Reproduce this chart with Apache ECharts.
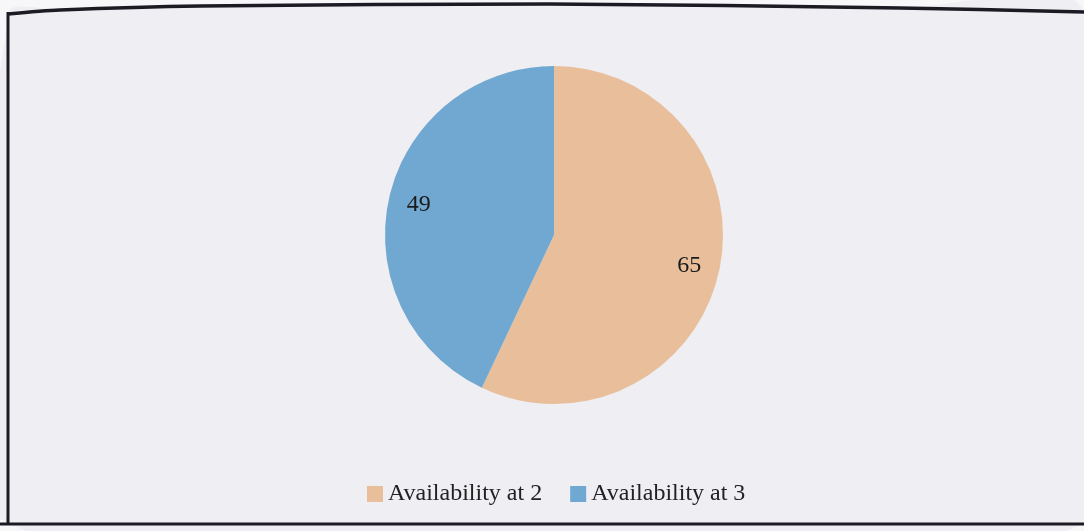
<!DOCTYPE html>
<html><head><meta charset="utf-8">
<script src="https://cdn.jsdelivr.net/npm/echarts@6/dist/echarts.min.js"></script>
<style>html,body{margin:0;padding:0;background:#f7f7f9;}#c{width:1084px;height:531px;}</style>
</head><body><div id="c"></div>
<script>
const categories = ['Availability at 2', 'Availability at 3'];
const values = [65, 49];
const colors = ['#e9bf9b', '#71a8d1'];

const data = categories.map((n, i) => ({ name: n, value: values[i], itemStyle: { color: colors[i] } }));
const chart = echarts.init(document.getElementById('c'), null, { renderer: 'canvas' });
const font = 'Liberation Serif, Times New Roman, serif';
const topEdge = [[8,14],[60,10],[200,6],[550,4],[900,8],[1084,12]];
chart.setOption({
  backgroundColor: '#f7f7f9',
  animation: false,
  graphic: [
    { type: 'polygon', z: -10, shape: { smooth: 0.3, points: topEdge.concat([[1084,523],[8,523]]) }, style: { fill: '#eeeef3' } },
    { type: 'polyline', z: 10, shape: { smooth: 0.3, points: topEdge }, style: { stroke: '#1c1b24', lineWidth: 3.5, fill: null } },
    { type: 'line', z: 10, shape: { x1: 8, y1: 12, x2: 8, y2: 524 }, style: { stroke: '#1c1b24', lineWidth: 3 } },
    { type: 'line', z: 10, shape: { x1: 0, y1: 524, x2: 1084, y2: 524 }, style: { stroke: '#1c1b24', lineWidth: 3 } }
  ],
  legend: {
    top: 477,
    left: 362,
    icon: 'rect',
    itemWidth: 16,
    itemHeight: 16,
    itemGap: 28,
    textStyle: { fontFamily: font, fontSize: 24, color: '#222' },
    data: categories
  },
  series: [
    {
      type: 'pie',
      center: [554, 235],
      radius: 169,
      startAngle: 90,
      clockwise: true,
      label: { show: false },
      labelLine: { show: false },
      emphasis: { disabled: true },
      data: data
    },
    {
      type: 'pie',
      center: [554, 235],
      radius: [102, 169],
      startAngle: 90,
      clockwise: true,
      silent: true,
      itemStyle: { color: 'rgba(0,0,0,0)' },
      label: { show: true, position: 'inside', formatter: '{c}', fontFamily: font, fontSize: 24, color: '#1a1a1a' },
      labelLine: { show: false },
      emphasis: { disabled: true },
      data: categories.map((n, i) => ({ name: n, value: values[i] }))
    }
  ]
});
</script></body></html>
